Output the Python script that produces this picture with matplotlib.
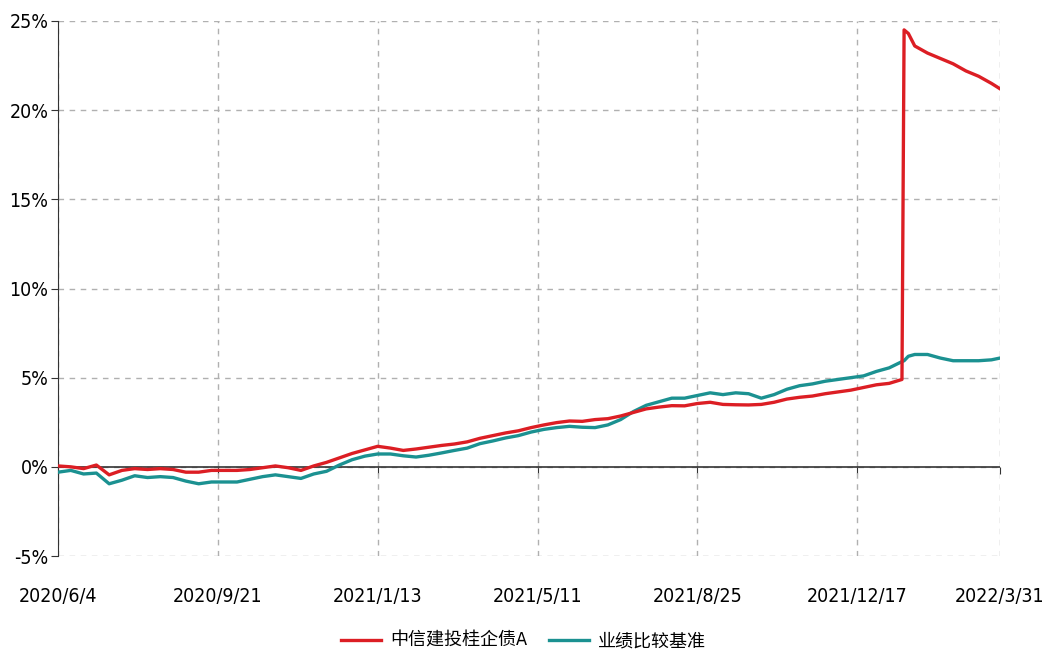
import matplotlib
matplotlib.use("Agg")
import matplotlib.pyplot as plt
from matplotlib import font_manager
from matplotlib.ticker import FuncFormatter

names = {f.name for f in font_manager.fontManager.ttflist}
narrow = 'Liberation Sans Narrow' if 'Liberation Sans Narrow' in names else 'DejaVu Sans'
plt.rcParams['font.family'] = [narrow, 'Noto Sans CJK SC', 'DejaVu Sans']
plt.rcParams['font.stretch'] = 'condensed'

# trading-day index of each sampled point
day_idx = [0, 6, 12, 18, 24, 30, 36, 42, 48, 54, 60, 66, 72, 78, 84, 90, 96, 102,
           108, 114, 120, 126, 132, 138, 144, 150, 156, 162, 168, 174, 180, 186,
           192, 198, 204, 210, 216, 222, 228, 234, 240, 246, 252, 258, 264, 270,
           276, 282, 288, 294, 300, 306, 312, 318, 324, 330, 336, 342, 348, 354,
           360, 366, 372, 378, 384, 390, 396, 397, 399, 402, 408, 414, 420, 426,
           432, 438, 442]

fund_ret = [0.05, 0.0, -0.1, 0.1, -0.45, -0.2, -0.1, -0.15, -0.1, -0.15, -0.3, -0.3,
            -0.2, -0.2, -0.2, -0.15, -0.05, 0.05, -0.05, -0.2, 0.05, 0.25, 0.5, 0.75,
            0.95, 1.15, 1.05, 0.92, 1.0, 1.1, 1.2, 1.28, 1.4, 1.6, 1.75, 1.9, 2.02,
            2.2, 2.35, 2.48, 2.57, 2.55, 2.65, 2.7, 2.85, 3.05, 3.25, 3.35, 3.43,
            3.42, 3.55, 3.62, 3.5, 3.48, 3.47, 3.5, 3.62, 3.8, 3.9, 3.97, 4.1, 4.2,
            4.3, 4.45, 4.6, 4.68, 4.9, 24.5, 24.3, 23.6, 23.2, 22.9, 22.6, 22.2,
            21.9, 21.5, 21.2]

bench_ret = [-0.3, -0.2, -0.4, -0.35, -0.95, -0.75, -0.5, -0.6, -0.55, -0.6, -0.8,
             -0.95, -0.85, -0.85, -0.85, -0.7, -0.55, -0.45, -0.55, -0.65, -0.4,
             -0.25, 0.1, 0.4, 0.6, 0.72, 0.72, 0.62, 0.55, 0.65, 0.78, 0.92, 1.05,
             1.3, 1.45, 1.62, 1.75, 1.95, 2.1, 2.2, 2.27, 2.22, 2.2, 2.35, 2.65, 3.1,
             3.45, 3.65, 3.85, 3.85, 4.0, 4.15, 4.05, 4.15, 4.1, 3.85, 4.05, 4.35,
             4.55, 4.65, 4.8, 4.9, 5.0, 5.1, 5.35, 5.55, 5.9, 5.95, 6.2, 6.3, 6.3,
             6.1, 5.95, 5.95, 5.95, 6.0, 6.1]

tick_idx = [0, 75, 150, 225, 300, 375, 442]
tick_labels = ['2020/6/4', '2020/9/21', '2021/1/13', '2021/5/11', '2021/8/25',
               '2021/12/17', '2022/3/31']

fig = plt.figure(figsize=(10.47, 6.51), dpi=100)
ax = fig.add_axes([58 / 1047, 1 - 556 / 651, 942 / 1047, 535 / 651])

ax.plot(day_idx, bench_ret, color='#1b9191', lw=2.4, label='业绩比较基准', zorder=3)
ax.plot(day_idx, fund_ret, color='#dc1e24', lw=2.4, label='中信建投桂企债A', zorder=4)

ax.set_xlim(0, 442)
ax.set_ylim(-5, 25)
ax.set_yticks(range(-5, 26, 5))
ax.yaxis.set_major_formatter(FuncFormatter(lambda v, p: f'{v:.0f}%'))
ax.set_xticks(tick_idx)
ax.set_xticklabels(tick_labels)

ax.grid(True, color='#b0b0b0', ls=(0, (4, 4)), lw=1)
ax.axhline(0, color='#333333', lw=1.2, zorder=2)

for s in ['top', 'right', 'bottom']:
    ax.spines[s].set_visible(False)
ax.spines['left'].set_color('#333333')
ax.tick_params(axis='y', length=5, color='#333333', labelsize=14, pad=2)
ax.tick_params(axis='x', length=0, labelsize=14, pad=22)

# tick marks on the zero line
sec = ax.secondary_xaxis(1 / 6)
sec.set_xticks(tick_idx)
sec.set_xticklabels([])
sec.tick_params(length=5, color='#333333', direction='out')
sec.spines['bottom'].set_visible(False)

handles, labels = ax.get_legend_handles_labels()
fig.legend(handles[::-1], labels[::-1], loc='center', bbox_to_anchor=(0.5, 1 - 641 / 651),
           ncol=2, frameon=False, fontsize=13, handlelength=2.2, columnspacing=1.2,
           handletextpad=0.5)

fig.savefig('out.png', dpi=100)
